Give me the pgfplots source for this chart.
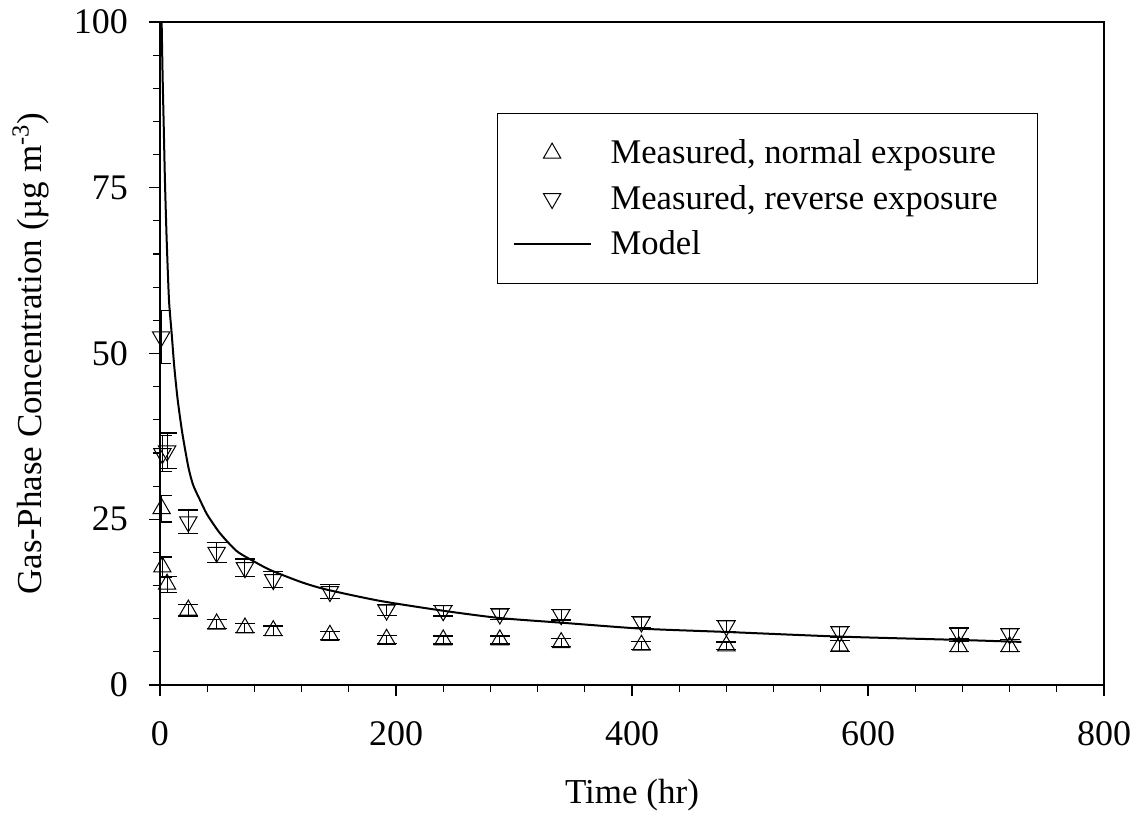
\documentclass[border=0pt]{standalone}
\usepackage{fontspec}
\setmainfont{Liberation Serif}
\usepackage{pgfplots}
\usepackage{pgfplotstable}
\pgfplotsset{compat=1.18}

\pgfplotstableread{
t c e
1.4 26.6 2.0
2 17.8 1.5
6 15.2 1.2
24 11.3 0.9
48 9.2 0.7
72 8.6 0.7
96 8.2 0.7
144 7.5 0.6
192 6.9 0.6
240 6.8 0.6
288 6.8 0.6
340 6.4 0.6
408 6.0 0.6
480 5.9 0.6
576 5.9 0.8
677 5.8 0.8
720 5.8 0.8
}\normal

\pgfplotstableread{
t c e
1 52.5 4.0
2 34.9 2.7
6 35.3 2.7
24 24.6 1.8
48 20.0 1.5
72 17.7 1.3
96 15.9 1.2
144 14.1 1.0
192 11.3 0.8
240 11.2 0.8
288 10.7 0.8
340 10.6 0.8
408 9.5 0.8
480 8.9 0.8
576 8.0 0.8
677 7.8 0.8
720 7.7 0.8
}\reverse

\pgfplotstableread{
t c
1.2 103
1.4 100
2.2 92
3.2 84
4.2 76
5.5 68
6.7 62
7.8 57.5
9.9 53
12.1 48
15 43
18.9 38
24 32.9
28 30.2
33.9 27.9
40 25.7
50.8 22.9
65 20.2
80 18.6
94 17.3
120 15.5
141 14.4
186 12.7
240 11.2
288 10.1
340 9.4
408 8.5
480 8.0
576 7.3
677 6.8
730 6.5
}\model

\begin{document}
\begin{tikzpicture}
\begin{axis}[
  scale only axis, width=472pt, height=331.5pt,
  xmin=0, xmax=800, ymin=0, ymax=100,
  xtick={0,200,...,800}, ytick={0,25,...,100},
  minor x tick num=4, minor y tick num=4,
  tick align=outside, tick pos=left,
  major tick length=5.5pt, minor tick length=3.5pt,
  axis line style={line width=0.75pt},
  every tick/.style={black, line width=0.6pt},
  /pgf/number format/assume math mode=true,
  ticklabel style={font=\fontsize{18}{20}\selectfont},
  xticklabel style={yshift=-9pt},
  yticklabel style={xshift=-7pt},
  xlabel={Time (hr)},
  ylabel={Gas-Phase Concentration (µg m\textsuperscript{-3})},
  label style={font=\fontsize{17.5}{20}\selectfont},
  xlabel style={at={(axis description cs:0.5,-0.166)}, anchor=center},
  ylabel style={at={(axis description cs:-0.137,0.5)}, anchor=center},
  legend style={at={(axis description cs:0.357,0.8627)}, anchor=north west,
    draw=black, line width=0.6pt, font=\fontsize{17.3}{19}\selectfont,
    cells={anchor=west}, inner xsep=7.5pt, inner ysep=11pt, row sep=5.2pt,
    column sep=7.5pt},
  legend image code/.code={\draw[mark repeat=2,mark phase=2,#1] plot coordinates {(0pt,0pt) (19.25pt,0pt) (38.5pt,0pt)};},
]
\addplot[only marks, black, mark=triangle, mark size=5pt, mark options={line width=0.5pt},
  error bars/.cd, y dir=both, y explicit,
  error bar style={line width=0.5pt},
  error mark options={rotate=90, mark size=5pt, line width=0.6pt}]
  table[x=t, y=c, y error=e] {\normal};
\addlegendentry{Measured, normal exposure\hspace*{10.5pt}}
\addplot[only marks, black, mark=triangle, mark size=5pt, mark options={rotate=180, line width=0.5pt},
  error bars/.cd, y dir=both, y explicit,
  error bar style={line width=0.5pt},
  error mark options={rotate=90, mark size=5pt, line width=0.6pt}]
  table[x=t, y=c, y error=e] {\reverse};
\addlegendentry{Measured, reverse exposure\hspace*{10.5pt}}
\addplot[black, line width=1pt, mark=none, smooth, tension=0.4] table[x=t, y=c] {\model};
\addlegendentry{Model}
\end{axis}
\path (current axis.south west) ++(-80pt,-70pt) coordinate (bbA);
\path (current axis.north east) ++(17.5pt,11pt) coordinate (bbB);
\path (bbA) rectangle (bbB);
\end{tikzpicture}
\end{document}
